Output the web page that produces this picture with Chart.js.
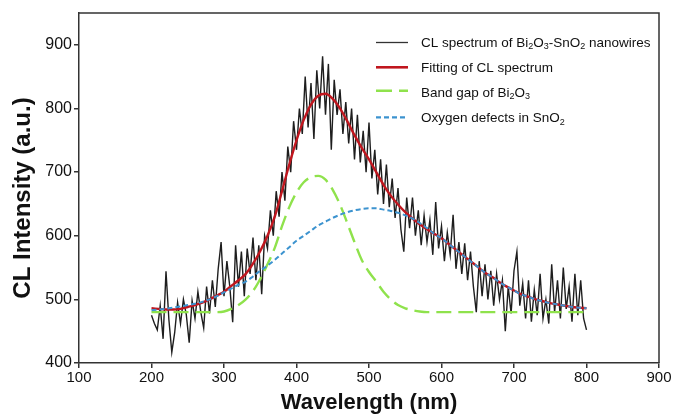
<!DOCTYPE html>
<html><head><meta charset="utf-8">
<script src="https://cdn.jsdelivr.net/npm/chart.js@4/dist/chart.umd.min.js"></script>
<style>html,body{margin:0;padding:0;background:#fff}#wrap{width:675px;height:416px;position:relative}</style>
</head><body><div id="wrap"><canvas id="c" width="675" height="416"></canvas></div>
<script>
// ---- data ----
const xTicks = [100, 200, 300, 400, 500, 600, 700, 800, 900];
const yTicks = [400, 500, 600, 700, 800, 900];

// measured CL spectrum, sampled every 4 nm from 200 nm
const specStart = 200, specStep = 4;
const clSpectrum = [
  475,462,452,490,438,544,468,417,448,495,
  462,500,476,432,498,470,512,480,455,520,
  478,530,488,548,590,505,560,520,464,585,
  520,575,505,580,540,597,530,585,508,600,
  580,640,600,670,630,700,655,740,700,780,
  735,800,760,850,770,840,752,860,800,882,
  790,870,735,845,790,830,760,810,745,800,
  720,790,715,765,700,778,690,735,665,720,
  650,712,645,690,628,675,610,575,660,612,
  660,600,640,585,632,590,625,570,653,580,
  615,560,605,570,633,548,590,540,588,530,
  575,520,480,560,505,555,500,545,490,540,
  500,530,450,520,478,545,575,490,525,470,
  530,465,515,475,540,470,500,462,555,480,
  530,470,550,485,520,465,540,475,530,470,
  452
];

// fitted curves, sampled every 10 nm from 200 nm
const fitStart = 200, fitStep = 10;
const fitTotal = [
  486,485,484,484,485,488,491,495,500,506,
  512,521,530,540,556,576,600,630,670,712,
  750,782,806,820,823,815,800,780,758,738,
  720,700,680,663,649,637,627,618,610,603,
  596,587,578,569,560,551,542,535,527,520,
  514,508,504,500,497,494,492,490,488,487,
  486
];
const bandGapBi2O3 = [
  480,480,480,480,480,480,480,480,480,480,
  481,485,491,500,513,532,555,581,615,645,
  668,684,692,694,688,672,649,620,590,562,
  543,528,512,500,491,486,483,481,480,480,
  480,480,480,480,480,480,480,480,480,480,
  480,480,480,480,480,480,480,480,480,480,
  480
];
const oxygenDefectsSnO2 = [
  483,484,485,487,489,491,493,496,500,505,
  511,517,523,528,536,545,553,562,572,582,
  592,600,608,616,622,628,633,637,640,642,
  643,643,641,639,636,632,627,620,612,603,
  596,587,578,569,560,551,542,535,527,520,
  514,508,504,500,497,494,492,490,488,487,
  486
];

const seriesNames = [
  [['CL spectrum of Bi',0],['2',1],['O',0],['3',1],['-SnO',0],['2',1],[' nanowires',0]],
  [['Fitting of CL spectrum',0]],
  [['Band gap of Bi',0],['2',1],['O',0],['3',1]],
  [['Oxygen defects in SnO',0],['2',1]]
];
const seriesLabels = seriesNames.map(p => p.map(s => s[0]).join(''));

// ---- build ----
const toPts = (arr, start, step) => arr.map((v, i) => ({x: start + i * step, y: v}));
const COL = {black:'#1e1e1e', red:'#c0161e', green:'#8fe24c', blue:'#3c93cf'};
const FONT = "'Liberation Sans', Arial, Helvetica, sans-serif";

const legendPlugin = {
  id: 'customLegend',
  afterDraw(chart) {
    const ctx = chart.ctx;
    const rows = [
      {y: 42.5, base: 46.5, color: '#333', w: 1.3, dash: []},
      {y: 67.3, base: 72, color: COL.red, w: 2.6, dash: []},
      {y: 90.8, base: 96.5, color: COL.green, w: 2.6, dash: [16, 7]},
      {y: 117.3, base: 122, color: COL.blue, w: 2.2, dash: [5, 3]}
    ];
    rows.forEach((r, i) => {
      ctx.save();
      ctx.strokeStyle = r.color; ctx.lineWidth = r.w; ctx.setLineDash(r.dash);
      ctx.beginPath(); ctx.moveTo(376, r.y); ctx.lineTo(408, r.y); ctx.stroke();
      ctx.restore();
      ctx.save();
      ctx.fillStyle = '#111'; ctx.textBaseline = 'alphabetic';
      let x = 421;
      seriesNames[i].forEach(([t, sub]) => {
        ctx.font = (sub ? '9px ' : '13.5px ') + FONT;
        ctx.fillText(t, x, r.base + (sub ? 2.5 : 0));
        x += ctx.measureText(t).width;
      });
      ctx.restore();
    });
  }
};
const framePlugin = {
  id: 'frame',
  afterDraw(chart) {
    const {left, right, top, bottom} = chart.chartArea;
    const ctx = chart.ctx;
    ctx.save(); ctx.strokeStyle = '#333'; ctx.lineWidth = 1.5;
    ctx.beginPath(); ctx.moveTo(left, top); ctx.lineTo(right, top); ctx.lineTo(right, bottom); ctx.stroke();
    ctx.restore();
  }
};

new Chart(document.getElementById('c'), {
  type: 'line',
  data: {
    datasets: [
      {label: seriesLabels[0], data: toPts(clSpectrum, specStart, specStep), borderColor: COL.black, borderWidth: 1.4, order: 4, tension: 0},
      {label: seriesLabels[1], data: toPts(fitTotal, fitStart, fitStep), borderColor: COL.red, borderWidth: 2.4, order: 3, cubicInterpolationMode: 'monotone'},
      {label: seriesLabels[2], data: toPts(bandGapBi2O3, fitStart, fitStep), borderColor: COL.green, borderWidth: 2.4, borderDash: [15, 7], order: 2, cubicInterpolationMode: 'monotone'},
      {label: seriesLabels[3], data: toPts(oxygenDefectsSnO2, fitStart, fitStep), borderColor: COL.blue, borderWidth: 2, borderDash: [5, 3], order: 1, cubicInterpolationMode: 'monotone'}
    ]
  },
  options: {
    responsive: false, animation: false, devicePixelRatio: 1,
    layout: {padding: {top: 13, right: 16, left: 0, bottom: 0}},
    elements: {point: {radius: 0}},
    plugins: {legend: {display: false}, tooltip: {enabled: false}},
    scales: {
      x: {
        type: 'linear', min: 100, max: 900,
        afterBuildTicks(s) { s.ticks = xTicks.map(v => ({value: v})); },
        afterFit(s) { s.height = 53; },
        grid: {display: true, drawOnChartArea: false, drawTicks: true, tickLength: 5, color: '#333', lineWidth: 1.5},
        border: {display: true, color: '#333', width: 1.5},
        ticks: {font: {family: FONT, size: 15}, color: '#111', padding: 1, maxRotation: 0},
        title: {display: true, text: 'Wavelength (nm)', color: '#111', font: {family: FONT, size: 22, weight: 'bold'}, padding: {top: 0, bottom: 0}}
      },
      y: {
        type: 'linear', min: 400, max: 950,
        afterBuildTicks(s) { s.ticks = yTicks.map(v => ({value: v})); },
        afterFit(s) { s.width = 79; },
        grid: {display: true, drawOnChartArea: false, drawTicks: true, tickLength: 5, color: '#333', lineWidth: 1.5},
        border: {display: true, color: '#333', width: 1.5},
        ticks: {font: {family: FONT, size: 16}, color: '#111', padding: 2},
        title: {display: true, text: 'CL Intensity (a.u.)   ', color: '#111', font: {family: FONT, size: 24, weight: 'bold'}, padding: {top: 9, bottom: 0}}
      }
    }
  },
  plugins: [framePlugin, legendPlugin]
});
</script></body></html>
